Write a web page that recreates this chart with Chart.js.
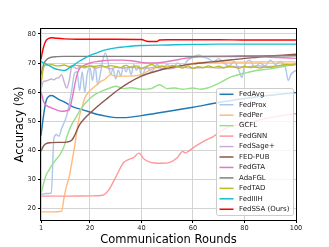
<!DOCTYPE html>
<html>
<head>
<meta charset="utf-8">
<script src="https://cdn.jsdelivr.net/npm/chart.js@4.4.1/dist/chart.umd.min.js"></script>
<style>
  html, body { margin: 0; padding: 0; background: #fff; }
  #wrap { width: 329px; height: 247px; }
</style>
</head>
<body>
<div id="wrap"><canvas id="acc"></canvas></div>
<script>
// tick labels
const xTicks = [1, 20, 40, 60, 80, 100];
const yTicks = [20, 30, 40, 50, 60, 70, 80];

// series (round -> accuracy %)
const fedavgRounds = [1, 2, 3, 4, 5, 8, 10, 13, 16, 19, 23, 27, 30, 35, 40, 50, 60, 70, 80, 90, 100];
const fedavgAcc = [45, 52, 57, 58.5, 58.8, 57.4, 56.6, 55.1, 54.2, 53.4, 52.3, 51.6, 51.2, 51.3, 51.9, 53.3, 54.8, 56.4, 57.8, 58.9, 59.8];

const fedproxRounds = [1, 3, 5, 6, 7, 8, 9, 10, 11, 12, 13, 14, 15, 16, 17, 18, 19, 20, 21, 22, 23, 24, 25, 26, 27, 28, 29, 30, 31, 32, 33, 34, 35, 36, 37, 38, 39, 40, 42, 44, 46, 48, 50, 52, 54, 56, 58, 60, 62, 64, 66, 68, 70, 72, 74, 76, 78, 79, 80, 82, 84, 86, 88, 90, 92, 94, 96, 97, 98, 100];
const fedproxAcc = [24.8, 25.1, 25.3, 44, 45.4, 44.8, 47.5, 49.5, 52, 56, 61, 66.5, 67, 60.5, 67, 60, 66.5, 68.5, 64, 69, 62.5, 66, 71, 73.5, 70.5, 66, 68, 64.5, 67.5, 65.5, 69, 67, 68.5, 66, 69.5, 67.5, 69, 65.5, 68.5, 67, 69.5, 68, 69.5, 68, 70, 69, 71, 72, 72.8, 72, 71.5, 70.5, 71.5, 70, 69, 70.5, 67, 65, 69, 71, 68.5, 70, 69, 71, 69.5, 70.5, 68, 64, 66, 67.5];

const fedperRounds = [1, 5, 9, 10, 11, 12, 13, 14, 15, 16, 17, 18, 20, 22, 24, 26, 28, 30, 35, 40, 43, 46, 50, 55, 58, 62, 70, 80, 90, 100];
const fedperAcc = [18.8, 18.8, 19, 24, 28, 31, 36, 41, 47, 52, 55, 58, 60.5, 62, 63.5, 64.5, 66, 65.5, 65.5, 66, 67.5, 68.5, 68.8, 68.8, 69.5, 70.2, 70.3, 70.3, 70.4, 70.4];

const gcflRounds = [1, 2, 3, 4, 5, 6, 7, 8, 9, 10, 11, 12, 13, 14, 15, 16, 18, 20, 22, 25, 28, 30, 33, 36, 40, 44, 47, 50, 53, 56, 60, 63, 66, 70, 75, 80, 85, 90, 95, 100];
const gcflAcc = [25, 28.5, 31.5, 33, 34.5, 35.8, 37, 38, 39.5, 41.5, 44.5, 47, 49, 50.5, 52, 53.5, 56, 57.8, 59.2, 60.5, 61.5, 62, 61.2, 61.5, 61, 61.3, 62.5, 61.2, 61.4, 61, 61.4, 61, 61.5, 63, 65.3, 66.5, 67.5, 68, 68.8, 69.5];

const fedgnnRounds = [1, 10, 20, 25, 27, 29, 31, 33, 35, 37, 39, 41, 43, 45, 48, 51, 54, 56, 57, 58, 61, 65, 68, 73, 80, 90, 100];
const fedgnnAcc = [24.2, 24.2, 24.3, 24.5, 26, 29, 32.5, 35.7, 36.8, 37.5, 39, 37, 36, 35.6, 35.5, 35.8, 37.5, 39.6, 39.1, 39.5, 41.4, 43.5, 44.8, 47.7, 49.2, 51.2, 52.6];

const fedsageRounds = [1, 2, 3, 4, 5, 6, 7, 8, 9, 10, 11, 12, 13, 14, 15, 16, 18, 20, 22, 25, 28, 30, 33, 36, 40, 45, 50, 55, 60, 65, 70, 75, 80, 85, 90, 95, 100];
const fedsageAcc = [61, 63.7, 63.8, 64.2, 64.5, 64.2, 64.8, 65, 66, 63.5, 61.4, 64.2, 68.8, 68.5, 68, 68.8, 68.3, 69, 68.2, 68.8, 68, 68.5, 68.2, 68.7, 68, 68.5, 68, 68.6, 68.2, 68.5, 68.3, 68.8, 68.6, 69, 68.8, 69.2, 69.5];

const fedpubRounds = [1, 2, 3, 5, 8, 11, 13, 14, 15, 16, 17, 18, 20, 23, 27, 31, 35, 40, 45, 50, 55, 60, 65, 70, 75, 80, 85, 90, 95, 100];
const fedpubAcc = [39.7, 41.5, 42.3, 42.6, 42.7, 42.8, 43.5, 45, 47, 48.8, 50, 51, 52.7, 55.1, 58, 60.8, 63.2, 65.5, 67, 68.2, 69, 69.7, 70.2, 70.6, 71.1, 71.6, 72, 72.4, 72.7, 73];

const fedgtaRounds = [1, 2, 3, 5, 7, 9, 11, 12, 13, 14, 15, 16, 18, 20, 22, 25, 28, 30, 33, 36, 40, 45, 50, 55, 60, 65, 70, 75, 80, 85, 90, 95, 100];
const fedgtaAcc = [60.2, 56.8, 55.5, 54.6, 53.9, 53.4, 53.6, 54, 57.4, 62, 66, 68.2, 69.3, 70, 70.4, 70.8, 71, 71, 71, 70.8, 70.2, 70, 70.5, 71.3, 72, 72.2, 72.2, 72.2, 72.3, 72.2, 72, 71.8, 71.6];

const adafglRounds = [1, 2, 3, 4, 5, 7, 10, 20, 40, 60, 80, 100];
const adafglAcc = [66, 69.5, 71, 71.7, 72, 72.2, 72.3, 72.3, 72.3, 72.3, 72.4, 72.5];

const fedtadRounds = [1, 2, 3, 4, 5, 6, 8, 10, 12, 14, 16, 18, 20, 22, 24, 26, 28, 30, 32, 34, 36, 38, 40, 42, 44, 46, 48, 50, 52, 54, 56, 58, 60, 62, 64, 66, 68, 70, 72, 74, 76, 78, 80, 82, 84, 86, 88, 90, 92, 94, 96, 98, 100];
const fedtadAcc = [62.5, 68.5, 69.4, 69.2, 69.5, 69.2, 69, 69.3, 68.8, 69.2, 69.1, 68.7, 69, 68.8, 69.2, 68.7, 69.1, 68.8, 68.5, 69.2, 68.4, 69, 68.2, 68.8, 69.5, 68.6, 69, 68.4, 69.2, 68.8, 68.3, 69, 68.2, 68.7, 68.4, 69, 68.5, 68.9, 68.3, 68.8, 68.6, 68.2, 68.9, 68.4, 68.7, 68.3, 68.6, 68.5, 68.9, 69.2, 69.5, 69.3, 69.8];

const fediiihRounds = [1, 2, 4, 6, 8, 10, 12, 14, 16, 18, 20, 23, 26, 30, 35, 40, 50, 60, 70, 80, 90, 100];
const fediiihAcc = [70.6, 70, 69.2, 68.2, 67.7, 67.4, 68.3, 69.5, 70.7, 71.7, 72.6, 73.6, 74.5, 75.2, 75.7, 76, 76.2, 76.4, 76.5, 76.5, 76.5, 76.5];

const fedssaRounds = [1, 2, 3, 4, 5, 7, 10, 15, 20, 30, 40, 42, 44, 46, 47, 50, 55, 60, 70, 80, 90, 100];
const fedssaAcc = [71.3, 75.5, 77.8, 78.5, 78.7, 78.5, 78.3, 78.2, 78.2, 78.2, 78.1, 77.5, 77.4, 77.4, 77.9, 78, 78, 78, 78, 77.9, 77.9, 77.9];

const labels = ['FedAvg', 'FedProx', 'FedPer', 'GCFL', 'FedGNN', 'FedSage+', 'FED-PUB', 'FedGTA', 'AdaFGL', 'FedTAD', 'FedIIIH', 'FedSSA (Ours)'];
const colors = ['#1f77b4', '#aec7e8', '#ffbb78', '#98df8a', '#ff9896', '#c5b0d5', '#8c564b', '#e377c2', '#7f7f7f', '#bcbd22', '#17becf', '#ff0000'];
const series = [
    [fedavgRounds, fedavgAcc], [fedproxRounds, fedproxAcc], [fedperRounds, fedperAcc],
    [gcflRounds, gcflAcc], [fedgnnRounds, fedgnnAcc], [fedsageRounds, fedsageAcc],
    [fedpubRounds, fedpubAcc], [fedgtaRounds, fedgtaAcc], [adafglRounds, adafglAcc],
    [fedtadRounds, fedtadAcc], [fediiihRounds, fediiihAcc], [fedssaRounds, fedssaAcc]
];

const FONT = "'DejaVu Sans', sans-serif";

function make_datasets() {
    var datasets = [];
    for (let i = 0; i < series.length; i++) {
        const xs = series[i][0], ys = series[i][1];
        datasets.push({
            label: labels[i],
            data: xs.map((x, k) => ({x: x, y: ys[k]})),
            borderColor: colors[i],
            backgroundColor: colors[i],
            borderWidth: 1.4,
            pointRadius: 0,
            cubicInterpolationMode: 'monotone',
            order: series.length - i   // later series drawn on top
        });
    }
    return datasets;
}

// matplotlib-ish frame + legend box inside the axes
const frameAndLegend = {
    id: 'frameAndLegend',
    afterDraw(chart) {
        const ctx = chart.ctx;
        const a = chart.chartArea;
        ctx.save();
        ctx.strokeStyle = '#000';
        ctx.lineWidth = 1;
        ctx.strokeRect(a.left - 0.5, a.top - 0.5, a.right - a.left + 1, a.bottom - a.top + 1);

        const right = a.right - 3, bottom = a.bottom - 5;
        const w = 77, h = 127;
        const left = right - w, top = bottom - h;
        ctx.beginPath();
        ctx.roundRect(left + 0.5, top + 0.5, w, h, 2);
        ctx.fillStyle = 'rgba(255,255,255,0.8)';
        ctx.fill();
        ctx.strokeStyle = '#cccccc';
        ctx.stroke();

        const step = 10.45;
        ctx.font = '7px ' + FONT;
        ctx.textBaseline = 'middle';
        ctx.textAlign = 'left';
        chart.data.datasets.forEach((ds, i) => {
            const y = top + 6.3 + i * step;
            ctx.beginPath();
            ctx.moveTo(left + 3.5, y);
            ctx.lineTo(left + 17.5, y);
            ctx.strokeStyle = ds.borderColor;
            ctx.lineWidth = 1.5;
            ctx.stroke();
            ctx.fillStyle = '#222';
            ctx.fillText(ds.label, left + 23, y);
        });
        ctx.restore();
    }
};

function lines_chart(canvas) {
    var myChart = new Chart(canvas, {
        type: 'line',
        data: { datasets: make_datasets() },
        plugins: [frameAndLegend],
        options: {
            responsive: true,
            maintainAspectRatio: false,
            animation: false,
            layout: { padding: { top: 29, right: 33, left: 0, bottom: 0 } },
            plugins: { legend: { display: false }, tooltip: { enabled: false } },
            scales: {
                x: {
                    type: 'linear',
                    min: 1,
                    max: 100,
                    afterBuildTicks: (s) => { s.ticks = xTicks.map(v => ({value: v})); },
                    afterFit: (s) => { s.height = 27; },
                    ticks: { font: { family: FONT, size: 6.6 }, color: '#222', padding: 1, maxRotation: 0 },
                    grid: { color: '#d3d3d3', lineWidth: 1, tickColor: '#000', tickLength: 3 },
                    border: { display: false },
                    title: { display: true, text: 'Communication Rounds', font: { family: FONT, size: 11.5 }, color: '#000', padding: { top: 0, bottom: 0 } }
                },
                y: {
                    min: 16,
                    max: 81.7,
                    afterBuildTicks: (s) => { s.ticks = yTicks.map(v => ({value: v})); },
                    afterFit: (s) => { s.width = 41; },
                    ticks: { font: { family: FONT, size: 6.6 }, color: '#222', padding: 2 },
                    grid: { color: '#d3d3d3', lineWidth: 1, tickColor: '#000', tickLength: 3 },
                    border: { display: false },
                    title: { display: true, text: 'Accuracy (%)', font: { family: FONT, size: 11.5 }, color: '#000', padding: { top: 13, bottom: 0 } }
                }
            }
        }
    });
    window.myChart = myChart;
}

lines_chart(document.getElementById('acc'));
</script>
</body>
</html>
